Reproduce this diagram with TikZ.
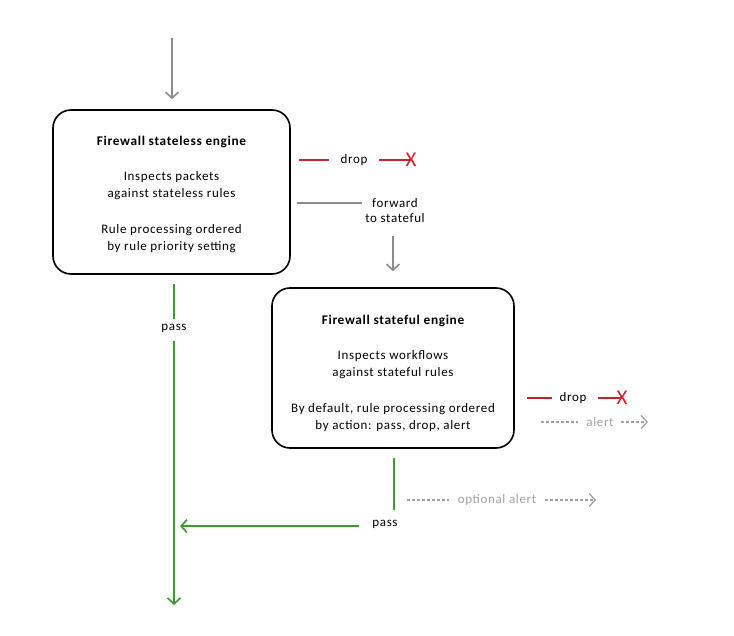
\documentclass[tikz,border=0pt]{standalone}
\usepackage{fontspec}
\setmainfont[LetterSpace=5]{Carlito}
\usetikzlibrary{arrows.meta}
\definecolor{passgreen}{HTML}{3C9A2E}
\definecolor{dropred}{HTML}{C8232C}
\definecolor{flowgray}{HTML}{8C8C8C}
\definecolor{alertgray}{HTML}{A0A0A0}
\tikzset{
  engine/.style={draw, line width=1.6pt, rounded corners=18pt, align=center,
    font=\fontsize{13}{17}\selectfont},
  flow/.style={line width=1.6pt},
  barb/.style={-{Straight Barb[length=6pt,width=13pt]}},
  hint/.style={dash pattern=on 3pt off 2pt, line width=1.3pt, alertgray},
}
\newcommand*{\enginetitle}[2][15pt]{\rule{0pt}{#1}{\fontsize{13.3}{17}\selectfont\bfseries #2}}

\begin{document}
\begin{tikzpicture}[x=1pt, y=-1pt, font=\fontsize{13}{15}\selectfont]
  \useasboundingbox (0,0) rectangle (734,636);

  % the two engines
  \node[engine, minimum width=237pt, minimum height=164pt] (e1) at (171.5,192)
    {\enginetitle{Firewall stateless engine}\\[18pt]
     Inspects packets\\ against stateless rules\\[19pt]
     Rule processing ordered\\ by rule priority setting};
  \node[engine, minimum width=242pt, minimum height=160pt] (e2) at (393,368)
    {\enginetitle[20pt]{Firewall stateful engine}\\[18pt]
     Inspects workflows\\ against stateful rules\\[19pt]
     By default, rule processing ordered\\ by action: pass, drop, alert};

  \coordinate (in) at (172,38);
  \coordinate (out) at (174,605);
  \coordinate (fwdin) at (362,203);
  \coordinate (p2top) at (394,510);
  \coordinate (alertout) at (648,422);
  \coordinate (optout) at (596,500);

  {\tikzstyle{every node}=[inner sep=3pt]
    \foreach \i/\x/\X/\y in {1/354/411/160, 2/573/622/398}
    {
      \node (drop\i) at (\x,\y) {drop};
      \node[dropred, font=\fontsize{21}{21}\selectfont] (x\i) at (\X,\y) {X};
    }
    \node[align=center] (fwd) at (395,211) {forward\\to stateful};
    \node (pass1) at (174,328) {pass};
    \node (pass2) at (385,524) {pass};
    \node[alertgray] (alert) at (600,422) {alert};
    \node[alertgray] (optalert) at (497,500) {optional alert};
  }

  \draw[flow, flowgray, barb] (in) -- ([yshift=10pt]e1.north -| in);

  \draw[flow, dropred]
    ([xshift=8pt]e1.east |- drop1) -- ([xshift=-8pt]drop1.west)
    ([xshift=8pt]drop1.east) -- (x1.center)
    ([xshift=12pt]e2.east |- drop2) -- ([xshift=-4pt]drop2.west)
    ([xshift=8pt]drop2.east) -- (x2.center);

  \draw[flow, flowgray]
    ([xshift=6pt]e1.east |- fwdin) -- (fwdin);
  \draw[flow, flowgray, barb]
    ([yshift=-10pt]fwd.south -| e2.north) -- ([yshift=16pt]e2.north);

  \draw[flow, passgreen]
    ([yshift=-9pt]e1.south -| pass1) -- ([yshift=2pt]pass1.north)
    ([yshift=-9pt]e2.south -| p2top) -- (p2top);
  \draw[flow, passgreen, barb]
    ([yshift=-6pt]pass1.south) -- (out);
  \draw[flow, passgreen, barb]
    ([xshift=-10pt]pass2.base west) -- ([xshift=6pt]pass2.base west -| out);

  \draw[hint]
    ([xshift=26pt]e2.east |- alert) -- ([xshift=-5pt]alert.west)
    ([xshift=14pt]e2.south |- optalert) -- ([xshift=-6pt]optalert.west);
  \draw[hint, barb]
    ([xshift=4pt]alert.east) -- (alertout);
  \draw[hint, barb]
    ([xshift=6pt]optalert.east) -- (optout);
\end{tikzpicture}
\end{document}
